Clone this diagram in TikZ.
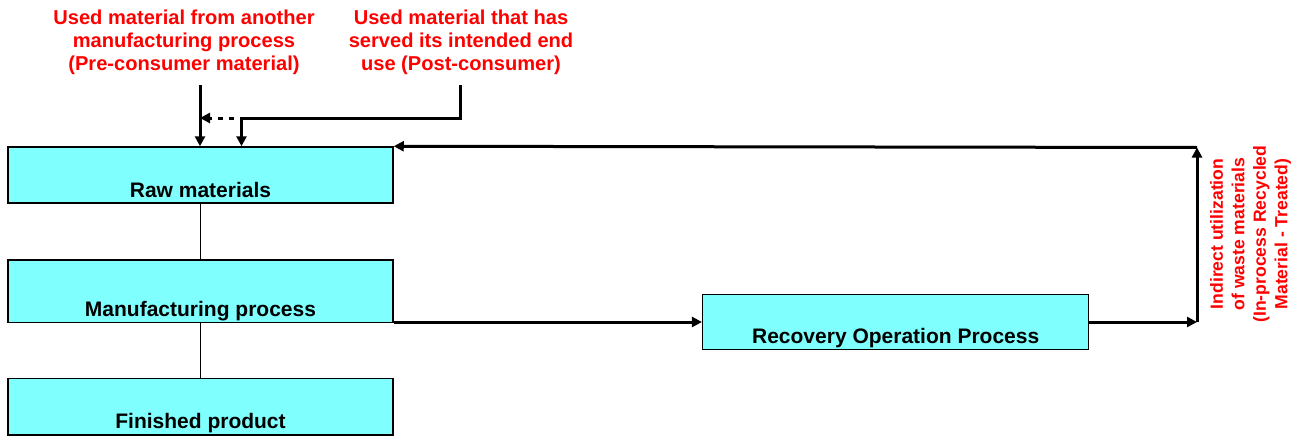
\documentclass[tikz,border=0pt]{standalone}
\usepackage{fontspec}
\setmainfont{Liberation Sans}
\usetikzlibrary{arrows.meta}
\definecolor{boxcyan}{HTML}{80FFFF}
\definecolor{notered}{HTML}{FF0000}

\begin{document}
\begin{tikzpicture}[x=1pt, y=-1pt, >={Triangle[length=10pt,width=10pt]},
   font=\bfseries\fontsize{21}{24}\selectfont,
   stage/.style={rectangle, fill=boxcyan, line width=1.5pt, minimum width=385, inner sep=0, text depth=6},
   note/.style={text=notered, align=center, font=\bfseries\fontsize{20.1}{23}\selectfont},
   flow/.style={line width=3pt},
   link/.style={line width=1.5pt}]
   \useasboundingbox (0,0) rectangle (1302,439);

   \node (raw) at (200.5,175) [draw, stage, text height=50] {Raw materials};
   \node (manu) at (200.5,291.2) [draw, stage, text height=56.5] {Manufacturing process};
   \node (fin) at (200.5,406.8) [draw, stage, text height=50.3] {Finished product};
   \node (rec) at (895.7,322) [draw, stage, minimum width=386, text height=49] {Recovery Operation Process};

   \node (pre) at (184,42) [note] {Used material from another\\manufacturing process\\(Pre-consumer material)};
   \node (post) at (461,42) [note] {Used material that has\\served its intended end\\use (Post-consumer)};
   \node (indirect) at (1250.5,234) [note, rotate=90, font=\bfseries\fontsize{17.6}{21.5}\selectfont]
      {Indirect utilization\\of waste materials\\(In-process Recycled\\Material - Treated)};

   \coordinate (prein) at (200,85);
   \coordinate (postout) at (460,85);
   \coordinate (postbend) at (241.5,118);
   \coordinate (dotstart) at (233.5,118);
   \coordinate (turn) at (1197,322);
   \coordinate (corner) at (1197,147.5);

   \draw (raw)[link] -- (manu);
   \draw (manu)[link] -- (fin);

   \draw (prein)[->, flow] -- (prein |- raw.north);
   \draw (postout)[->, flow] |- (postbend) -- (postbend |- raw.north);
   \draw (dotstart)[->, flow, dash pattern=on 5pt off 6pt] -- (prein |- dotstart);

   \draw (manu.east |- rec.west)[->, flow] -- (rec.west);
   \draw (rec.east)[->, flow] -- (turn);
   \draw (turn)[->, flow] -- (corner);
   \draw (corner)[->, flow] -- (raw.north east);

\end{tikzpicture}
\end{document}
